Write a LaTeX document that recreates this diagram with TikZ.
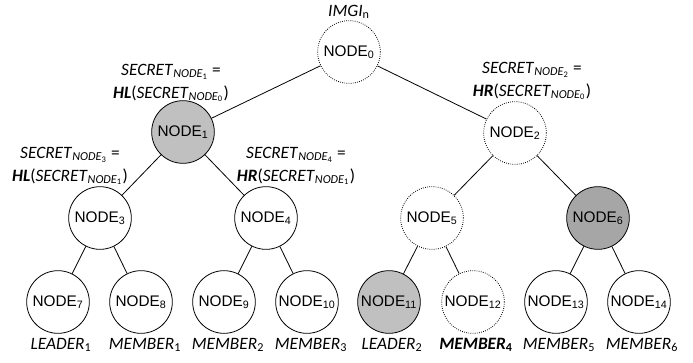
\documentclass[tikz,border=0pt]{standalone}
\usepackage{fontspec}
\setmainfont{Liberation Sans}
\newfontfamily\lblfont{Carlito}
\usetikzlibrary{positioning}
\definecolor{keygray}{HTML}{C0C0C0}
\definecolor{darkgray}{HTML}{A6A6A6}
\newcommand{\nd}[1]{NODE\textsubscript{#1}}
\newcommand{\secnode}[1]{\textit{SECRET}\textsubscript{\textit{NODE}\textsubscript{#1}}}
\newcommand{\mbr}[2]{\textit{#1}\textsubscript{#2}}

\begin{document}
\begin{tikzpicture}[
      x=0.75pt, y=-0.75pt,
      every node/.style={font=\fontsize{11.5}{13}\selectfont},
      tnode/.style={draw, circle, line width=0.6pt, minimum size=47pt, inner sep=0pt},
      gone/.style={tnode, densely dotted},
      lbl/.style={font=\lblfont\fontsize{13}{17}\selectfont, align=center},
      edge/.style={line width=0.6pt},
    ]
    \useasboundingbox (0,0) rectangle (693,362);
    % Root
    \node[gone] (n0) at (349,52) {\nd{0}};
    % Level 1
    \node[tnode, fill=keygray] (n1) at (183,132) {\nd{1}};
    \node[gone] (n2) at (515,133) {\nd{2}};
    % Level 2
    \node[tnode] (n3) at (100,218) {\nd{3}};
    \node[tnode] (n4) at (266,218) {\nd{4}};
    \node[gone] (n5) at (432,218) {\nd{5}};
    \node[tnode, fill=darkgray] (n6) at (598,218) {\nd{6}};
    % Leaves
    \node[tnode] (n7) at (58,302) {\nd{7}};
    \node[tnode] (n8) at (141,302) {\nd{8}};
    \node[tnode] (n9) at (224,302) {\nd{9}};
    \node[tnode] (n10) at (307,302) {\nd{10}};
    \node[tnode, fill=keygray] (n11) at (389,302) {\nd{11}};
    \node[gone] (n12) at (473,302) {\nd{12}};
    \node[tnode] (n13) at (556,302) {\nd{13}};
    \node[tnode] (n14) at (639,302) {\nd{14}};

    \foreach \a/\b in {n0/n1, n0/n2, n1/n3, n1/n4, n2/n5, n2/n6,
                       n3/n7, n3/n8, n4/n9, n4/n10, n5/n11, n5/n12, n6/n13, n6/n14}
      \draw[edge] (\a) -- (\b);

    % Labels
    \node[lbl] (img) at (349,12) {\textit{IMGI}\textsubscript{n}};
    \node[lbl] (s1) at (171,83) {\secnode{1} =\\\textbf{\textit{HL}}(\secnode{0})};
    \node[lbl] (s2) at (532,81) {\secnode{2} =\\\textbf{\textit{HR}}(\secnode{0})};
    \node[lbl] (s3) at (70,166) {\secnode{3} =\\\textbf{\textit{HL}}(\secnode{1})};
    \node[lbl] (s4) at (296,166) {\secnode{4} =\\\textbf{\textit{HR}}(\secnode{1})};

    \node[lbl] (l7) at (61,345) {\mbr{LEADER}{1}};
    \node[lbl] (l8) at (145,345) {\mbr{MEMBER}{1}};
    \node[lbl] (l9) at (228,345) {\mbr{MEMBER}{2}};
    \node[lbl] (l10) at (311,345) {\mbr{MEMBER}{3}};
    \node[lbl] (l11) at (392,345) {\mbr{LEADER}{2}};
    \node[lbl] (l12) at (476,345) {\textbf{\mbr{MEMBER}{4}}};
    \node[lbl] (l13) at (559,345) {\mbr{MEMBER}{5}};
    \node[lbl] (l14) at (642,345) {\mbr{MEMBER}{6}};
  \end{tikzpicture}
\end{document}
